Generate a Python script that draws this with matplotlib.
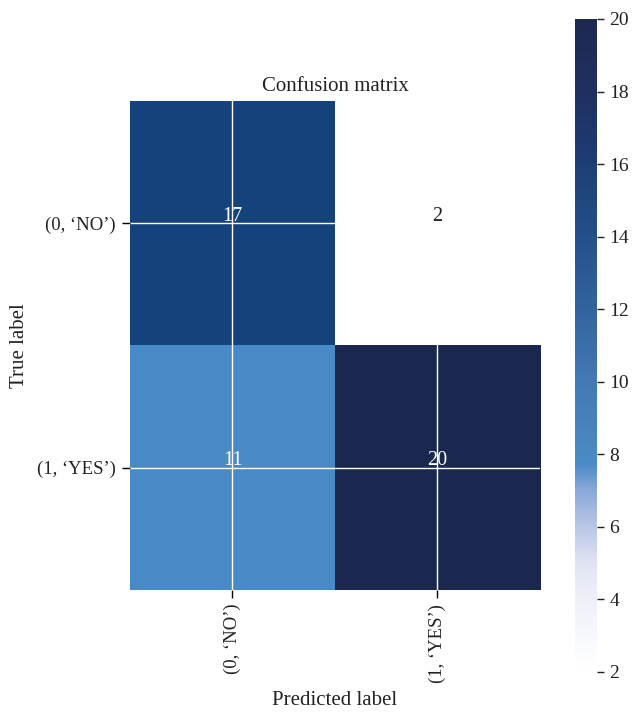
import numpy as np
import matplotlib
matplotlib.use("Agg")
import matplotlib.pyplot as plt
from matplotlib.colors import LinearSegmentedColormap, Normalize
from matplotlib.cm import ScalarMappable

plt.rcParams['font.family'] = ['Liberation Serif', 'DejaVu Serif']

classes = ["(0, \u2018NO\u2019)", "(1, \u2018YES\u2019)"]
cm = np.array([[17, 2],
               [11, 20]])
cbar_ticks = [2, 4, 6, 8, 10, 12, 14, 16, 18, 20]

vmin, vmax = 2, 20

# colours sampled off the colour bar
bar_vals = [2, 3, 4, 5, 6, 7, 7.7, 10, 12, 14, 16, 18, 20]
bar_cols = ["#ffffff", "#f7f8fc", "#eef0f8", "#dfe4f2", "#b8c6e4", "#8aa8d8",
            "#4a8bc7", "#4479b3", "#33639e", "#23508a", "#1e3d75", "#1f3060", "#1e2850"]
bar_cmap = LinearSegmentedColormap.from_list(
    "bar", [((v - vmin) / (vmax - vmin), c) for v, c in zip(bar_vals, bar_cols)])

# colours the cells actually have
cell_vals = [2, 11, 17, 20]
cell_cols = ["#ffffff", "#4a8bc7", "#14447d", "#1a2850"]
cell_cmap = LinearSegmentedColormap.from_list(
    "cells", [((v - vmin) / (vmax - vmin), c) for v, c in zip(cell_vals, cell_cols)])

norm = Normalize(vmin=vmin, vmax=vmax)

fig = plt.figure(figsize=(6.35, 7.16), dpi=100)
ax = fig.add_axes([0.2047, 0.176, 0.6457, 0.683])
cax = fig.add_axes([0.9055, 0.0615, 0.0346, 0.912])

ax.imshow(cm, cmap=cell_cmap, norm=norm, aspect='auto', interpolation='nearest')
ax.set_title("Confusion matrix", fontsize=15, color="#222222", pad=7)

ticks = np.arange(len(classes))
ax.set_xticks(ticks)
ax.set_xticklabels(classes, rotation=90, fontsize=13.5, color="#222222")
ax.set_yticks(ticks)
ax.set_yticklabels(classes, fontsize=13.5, color="#222222")
ax.tick_params(length=6, width=1, pad=4)
for s in ax.spines.values():
    s.set_visible(False)

ax.grid(True, color="white", linewidth=1)
ax.set_axisbelow(False)

thresh = cm.max() / 2.0
for i in range(cm.shape[0]):
    for j in range(cm.shape[1]):
        ax.text(j, i - 0.01, str(cm[i, j]), ha="center", va="baseline", fontsize=14.5,
                color="white" if cm[i, j] > thresh else "#222222", zorder=3)

ax.set_ylabel("True label", fontsize=15, color="#222222", labelpad=6)
ax.set_xlabel("Predicted label", fontsize=15, color="#222222", labelpad=6)

cb = fig.colorbar(ScalarMappable(norm=norm, cmap=bar_cmap), cax=cax)
cb.set_ticks(cbar_ticks)
cb.outline.set_visible(False)
cb.ax.tick_params(length=5, width=1, labelsize=14, colors="#222222", pad=4)

fig.savefig("out.png", dpi=100)
